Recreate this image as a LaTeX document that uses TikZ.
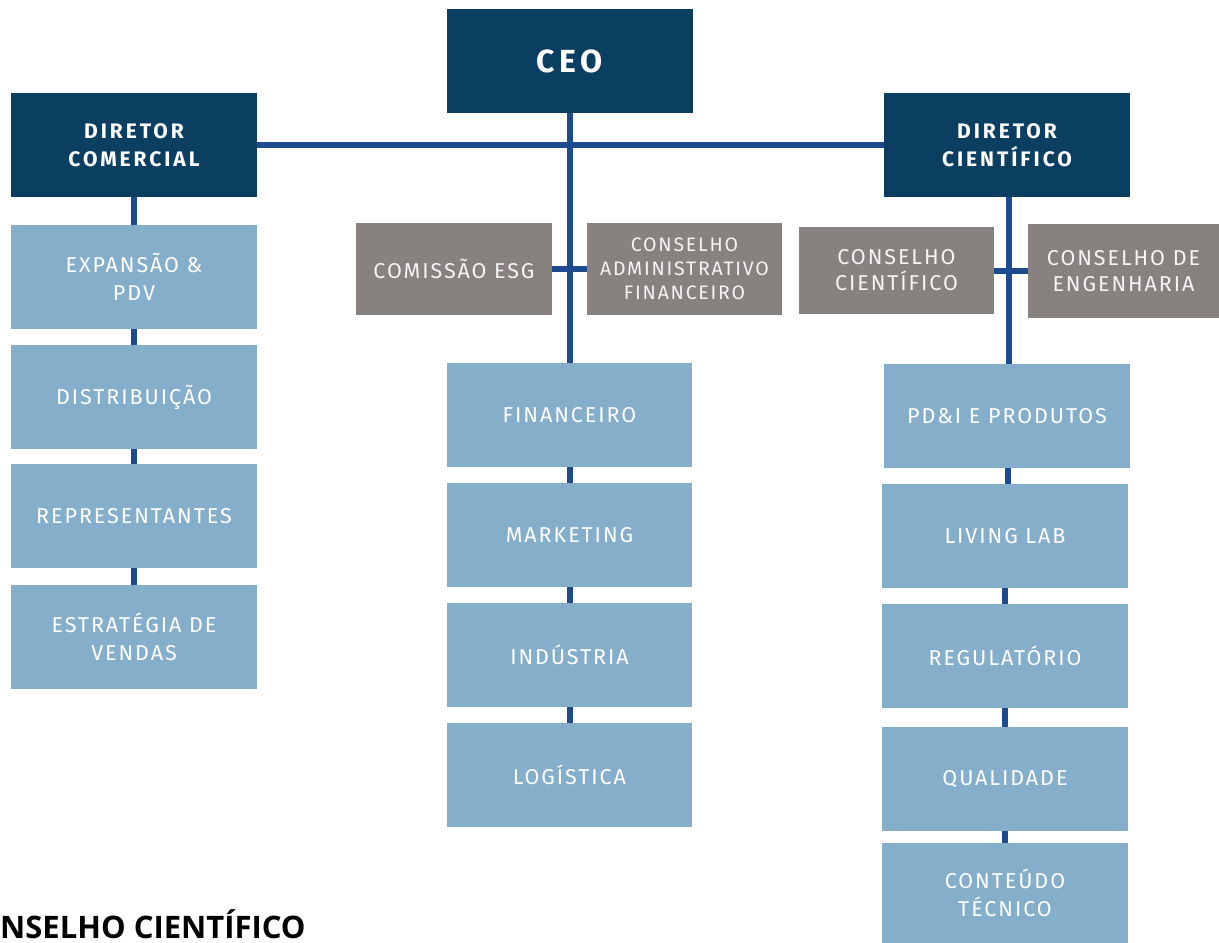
\documentclass[tikz,border=0pt]{standalone}
\usepackage{fontspec}
\setmainfont{Fira Sans}
\newfontfamily\boxfont[LetterSpace=9]{Fira Sans}
\newfontfamily\headfont[LetterSpace=14]{Fira Sans}
\newfontfamily\capfont{Open Sans}
\usetikzlibrary{positioning}

\definecolor{navy}{HTML}{0A3F62}
\definecolor{linkblue}{HTML}{1E4A8E}
\definecolor{paleblue}{HTML}{85AECB}
\definecolor{greybox}{HTML}{878180}

\begin{document}
\begin{tikzpicture}[x=1pt,y=-1pt,
   head/.style={draw=none,fill=navy,text=white,minimum width=246pt,minimum height=104pt,
     align=center,inner sep=0pt,font=\headfont\bfseries\fontsize{21}{28}\selectfont},
   area/.style={fill=paleblue,text=white,minimum width=246pt,minimum height=104pt,
     align=center,inner sep=0pt,font=\boxfont\fontsize{21.5}{28}\selectfont},
   board/.style={fill=greybox,text=white!92!greybox,minimum width=195pt,minimum height=92pt,
     align=center,inner sep=0pt,font=\boxfont\fontsize{21.5}{26}\selectfont},
   link/.style={draw=linkblue,line width=6pt}]
\useasboundingbox (0,0) rectangle (1219,943);

% top level
\node[head,font=\headfont\bfseries\fontsize{32}{36}\selectfont] (ceo) at (569.5,61) {CEO};
\node[head] (dcom) at (134,145) {DIRETOR\\COMERCIAL};
\node[head] (dcie) at (1007,145) {DIRETOR\\CIENTÍFICO};

% boards
\node[board,minimum width=196pt] (esg) at (454,269) {COMISSÃO ESG};
\node[board,font=\boxfont\fontsize{19.5}{24}\selectfont] (caf) at (684.5,269) {CONSELHO\\ADMINISTRATIVO\\FINANCEIRO};
\node[board,minimum height=87pt] (ccie) at (896.5,270.5) {CONSELHO\\CIENTÍFICO};
\node[board,minimum width=191pt,minimum height=94pt] (ceng) at (1123.5,271) {CONSELHO DE\\ENGENHARIA};

% comercial
\node[area] (exp) at (134,277) {EXPANSÃO \&\\PDV};
\node[area] (dist) at (134,397) {DISTRIBUIÇÃO};
\node[area] (rep) at (134,516) {REPRESENTANTES};
\node[area] (vend) at (134,637) {ESTRATÉGIA DE\\VENDAS};

% ceo
\node[area,minimum width=245pt] (fin) at (569.5,415) {FINANCEIRO};
\node[area,minimum width=245pt] (mkt) at (569.5,535) {MARKETING};
\node[area,minimum width=245pt] (ind) at (569.5,655) {INDÚSTRIA};
\node[area,minimum width=245pt] (log) at (569.5,775) {LOGÍSTICA};

% cientifico
\node[area] (pdi) at (1007,416) {PD\&I E PRODUTOS};
\node[area] (lab) at (1005,536) {LIVING LAB};
\node[area] (reg) at (1005,656) {REGULATÓRIO};
\node[area] (qual) at (1005,779) {QUALIDADE};
\node[area,minimum height=100pt] (cont) at (1005,893) {CONTEÚDO\\TÉCNICO};

\node[anchor=base west,inner sep=0pt,font=\capfont\bfseries\fontsize{31}{34}\selectfont] (tail) at (0,938) {NSELHO CIENTÍFICO};

% connectors
\draw[link] (dcom) -- (dcie);
\draw[link] (ceo) -- (fin);
\draw[link] (esg) -- (caf);
\draw[link] (ccie.east) -- (ceng.west |- ccie.east);
\draw[link] (dcom) -- (exp);
\draw[link] (exp) -- (dist);
\draw[link] (dist) -- (rep);
\draw[link] (rep) -- (vend);
\draw[link] (fin) -- (mkt);
\draw[link] (mkt) -- (ind);
\draw[link] (ind) -- (log);
\draw[link] ([xshift=2pt]dcie.south) -- ([xshift=2pt]pdi.north);
\draw[link] (pdi.south) ++(1pt,0) -- ([xshift=3pt]lab.north);
\draw[link] (lab) -- (reg);
\draw[link] (reg) -- (qual);
\draw[link] (qual) -- (cont);
\end{tikzpicture}
\end{document}
